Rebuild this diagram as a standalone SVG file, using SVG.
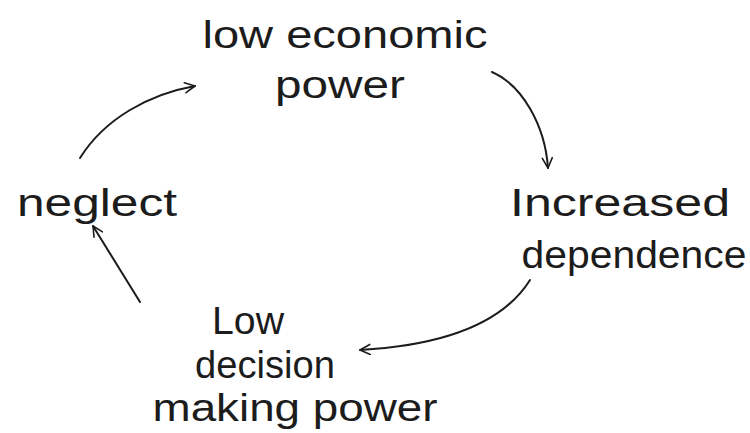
<svg xmlns="http://www.w3.org/2000/svg" width="750" height="433" viewBox="0 0 750 433">
  <style>
    .lbl { font-family: "Liberation Sans", "DejaVu Sans", sans-serif; font-size: 38px; fill: #1c1c1c; text-anchor: middle; }
    .edge { fill: none; stroke: #1c1c1c; stroke-width: 2; stroke-linecap: round; }
  </style>
  <defs>
    <marker id="head" viewBox="0 0 12 12" refX="11" refY="6" markerWidth="12" markerHeight="12" markerUnits="userSpaceOnUse" orient="auto">
      <path d="M1,1 L11,6 L1,11" fill="none" stroke="#1c1c1c" stroke-width="1.6" stroke-linecap="round" stroke-linejoin="round"/>
    </marker>
  </defs>
  <rect width="750" height="433" fill="#ffffff"/>

  <g id="connectors">
    <!-- neglect to low economic power -->
    <path class="edge" d="M80,158 C105,118 150,94 195,86" marker-end="url(#head)"/>
    <!-- low economic power to increased dependence -->
    <path class="edge" d="M492,72 C522,85 545,125 548,168" marker-end="url(#head)"/>
    <!-- increased dependence to low decision making power -->
    <path class="edge" d="M530,280 C505,320 450,345 360,350" marker-end="url(#head)"/>
    <!-- low decision making power to neglect -->
    <path class="edge" d="M140,302 L93,226" marker-end="url(#head)"/>
  </g>

  <g id="node-low-economic-power">
    <text class="lbl" x="345" y="48" textLength="285" lengthAdjust="spacingAndGlyphs">low economic</text>
    <text class="lbl" x="340" y="98" textLength="130" lengthAdjust="spacingAndGlyphs">power</text>
  </g>

  <g id="node-increased-dependence">
    <text class="lbl" x="620" y="216" textLength="220" lengthAdjust="spacingAndGlyphs">Increased</text>
    <text class="lbl" x="634" y="268" textLength="225" lengthAdjust="spacingAndGlyphs">dependence</text>
  </g>

  <g id="node-low-decision-making-power">
    <text class="lbl" x="248" y="334" textLength="72" lengthAdjust="spacingAndGlyphs">Low</text>
    <text class="lbl" x="265" y="378" textLength="140" lengthAdjust="spacingAndGlyphs">decision</text>
    <text class="lbl" x="295" y="421" textLength="285" lengthAdjust="spacingAndGlyphs">making power</text>
  </g>

  <g id="node-neglect">
    <text class="lbl" x="97" y="216" textLength="160" lengthAdjust="spacingAndGlyphs">neglect</text>
  </g>
</svg>
